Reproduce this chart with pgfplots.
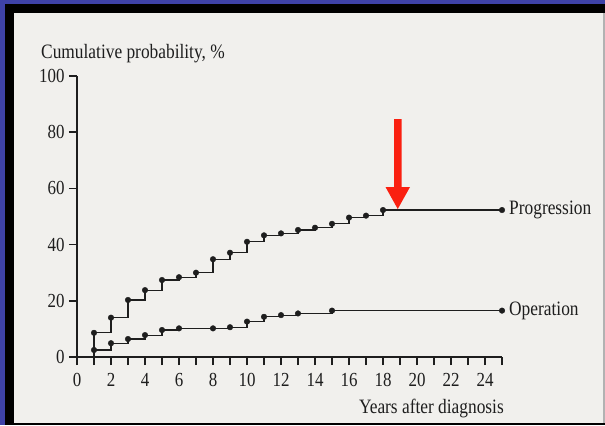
\documentclass[border=0pt]{standalone}
\usepackage{fontspec}
\setmainfont{Liberation Serif}[FakeStretch=0.85]
\usepackage{pgfplots}
\pgfplotsset{compat=1.18}
\definecolor{frameblue}{RGB}{62,66,168}
\definecolor{paper}{RGB}{241,240,237}
\definecolor{ink}{RGB}{30,30,30}
\definecolor{arrowred}{RGB}{250,32,16}
\begin{document}
\begin{tikzpicture}
\begin{scope}[x=1bp,y=1bp]
\useasboundingbox (0,0) rectangle (605,425);
\fill[frameblue] (0,0) rectangle (605,425);
\fill[black] (5,0) rectangle (605,421);
\fill[paper] (14,2) rectangle (603,412);
\fill[gray!60] (603,2) rectangle (605,412);
\end{scope}
\begin{axis}[
  at={(77bp,68bp)}, anchor=south west,
  width=425bp, height=281bp, scale only axis,
  xmin=0, xmax=25, ymin=0, ymax=100,
  axis lines=left, axis line style={-, ink, line width=1.1bp},
  tick align=outside, major tick length=8bp,
  xtick={0,1,...,25},
  xticklabels={0,,2,,4,,6,,8,,10,,12,,14,,16,,18,,20,,22,,24,},
  ytick={0,20,...,100},
  xtick style={draw=ink, line width=1.4bp},
  ytick style={draw=ink, line width=1.4bp},
  every tick label/.append style={font=\fontsize{20}{24}\selectfont, text=ink},
  xticklabel style={yshift=-5bp},
  yticklabel style={xshift=-1bp},
  /pgf/number format/assume math mode=true,
  clip=false,
]
% Progression
\addplot[const plot, ink, line width=1.1bp] coordinates {
 (1,0) (1,8.6) (2,14.0) (3,20.3) (4,23.8) (5,27.4) (6,28.4) (7,30.0) (8,34.8)
 (9,37.1) (10,41.0) (11,43.3) (12,44.0) (13,45.2) (14,46.0) (15,47.4)
 (16,49.6) (17,50.3) (18,52.3) (25,52.3)};
\addplot[only marks, mark=*, mark size=2.8bp, ink] coordinates {
 (1,8.6) (2,14.0) (3,20.3) (4,23.8) (5,27.4) (6,28.4) (7,30.0) (8,34.8)
 (9,37.1) (10,41.0) (11,43.3) (12,44.0) (13,45.2) (14,46.0) (15,47.4)
 (16,49.6) (17,50.3) (18,52.3) (25,52.3)};
% Operation
\addplot[const plot, ink, line width=1.1bp] coordinates {
 (1,0) (1,2.5) (2,4.9) (3,6.4) (4,7.8) (5,9.6) (6,10.2) (8,10.2) (9,10.6)
 (10,12.6) (11,14.3) (12,14.9) (13,15.5) (15,16.5) (25,16.5)};
\addplot[only marks, mark=*, mark size=2.8bp, ink] coordinates {
 (1,2.5) (2,4.9) (3,6.4) (4,7.8) (5,9.6) (6,10.2) (8,10.2) (9,10.6)
 (10,12.6) (11,14.3) (12,14.9) (13,15.5) (15,16.5) (25,16.5)};
\draw[ink, line width=1.1bp] (axis cs:-0.4,0) -- (axis cs:0,0);
\node[anchor=west, inner sep=0pt, xshift=7bp, text=ink, font=\fontsize{20.5}{24}\selectfont] at (axis cs:25,52.3) {Progression};
\node[anchor=west, inner sep=0pt, xshift=7bp, text=ink, font=\fontsize{20.5}{24}\selectfont] at (axis cs:25,16.5) {Operation};
\end{axis}
\begin{scope}[x=1bp,y=1bp]
\node[anchor=base west, inner sep=0pt, text=ink, font=\fontsize{20.5}{24}\selectfont] at (41,367) {Cumulative probability, \%};
\node[anchor=base east, inner sep=0pt, text=ink, font=\fontsize{20.5}{24}\selectfont] at (504,12) {Years after diagnosis};
\fill[arrowred] (394,306) -- (401.5,306) -- (401.5,238) -- (410,238) -- (397.75,216) -- (385.5,238) -- (394,238) -- cycle;
\end{scope}
\end{tikzpicture}
\end{document}
